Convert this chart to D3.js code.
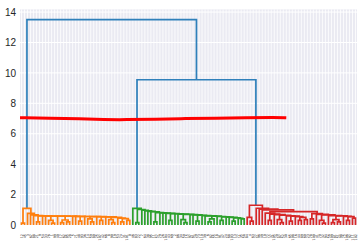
<!DOCTYPE html>
<html>
<head>
<meta charset="utf-8">
<script src="https://cdn.jsdelivr.net/npm/d3@7"></script>
<style>
  body { margin: 0; background: #fff; }
  svg { display: block; }
</style>
</head>
<body>
<div id="chart"></div>
<script>
// merge heights; leaf = 0, node = [height, left, right]
// chains: each step merges [height, piece] with everything to its right
const orangeSteps = [
  [1.09, [0.12, 0, 0]], [0.77, 0], [0.67, 0], [0.62, 0], [0.6, [0.2, 0, 0]],
  [0.6, 0], [0.59, 0], [0.59, [0.3, 0, [0.12, 0, 0]]], [0.58, 0],
  [0.58, [0.33, [0.15, 0, 0], [0.2, 0, 0]]], [0.57, 0], [0.57, 0],
  [0.56, [0.25, 0, 0]], [0.56, 0], [0.55, [0.4, 0, [0.2, 0, 0]]], [0.55, 0],
  [0.54, [0.3, 0, 0]], [0.53, 0], [0.5, [0.35, 0, [0.15, 0, 0]]], [0.45, 0],
  [0.42, [0.2, 0, 0]]
]
const orangeLast = [0.3, 0, 0]

const greenSteps = [
  [1.09, 0], [1.02, [0.15, 0, 0]], [0.97, 0], [0.93, 0], [0.9, 0], [0.87, 0],
  [0.82, [0.2, 0, 0]], [0.8, 0], [0.78, 0], [0.77, 0], [0.75, [0.3, 0, 0]],
  [0.74, 0], [0.72, 0], [0.7, [0.35, 0, [0.15, 0, 0]]], [0.68, 0], [0.66, 0],
  [0.64, [0.25, 0, 0]], [0.62, 0], [0.6, 0], [0.58, [0.4, [0.2, 0, 0], 0]],
  [0.56, 0], [0.54, [0.3, 0, 0]], [0.52, 0], [0.5, 0], [0.47, [0.25, 0, 0]],
  [0.44, 0]
]
const greenLast = [0.4, 0, 0]

const redSteps = [[1.3, [0.5, 0, [0.25, 0, 0]]], [1.1, 0], [1.04, 0], [1.0, 0]]
const redSplit = 0.88
const redASteps = [
  [0.78, 0], [0.72, [0.3, 0, 0]], [0.68, 0], [0.64, [0.35, 0, [0.15, 0, 0]]],
  [0.6, 0], [0.58, [0.25, 0, 0]], [0.55, 0], [0.5, [0.3, 0, 0]]
]
const redALast = [0.35, 0, 0]
const redBSteps = [
  [0.75, [0.4, 0, 0]], [0.7, 0], [0.66, [0.3, 0, [0.12, 0, 0]]], [0.62, 0],
  [0.6, [0.35, [0.15, 0, 0], [0.2, 0, 0]]], [0.57, 0], [0.55, [0.3, 0, 0]]
]
const redBLast = [0.45, 0, 0]

const topMerge = 13.5
const midMerge = 9.55

const leafLabels = [
  12, 45, 3, 67, 88, 21, 9, 54, 33, 76, 1, 99, 40, 17, 62, 85, 28, 5, 71, 48,
  93, 36, 14, 59, 80, 25, 107, 42, 66, 8, 90, 19, 53, 74, 31, 101, 0,
  46, 83, 22, 7, 64, 38, 95, 11, 57, 79, 26, 104, 43, 69, 2, 86, 34, 50, 15,
  97, 61, 29, 73, 110, 39, 6, 82, 55, 18, 91, 47, 24, 68, 103, 13, 77, 35, 58,
  84, 4, 63, 27, 96, 49, 10, 72, 37, 105, 20, 87, 52, 30, 65, 108, 16, 44, 89,
  60, 23, 78, 100, 41, 70, 32, 94, 56, 109, 81, 51, 98, 75, 106, 92, 111, 102
]

const yTicks = [0, 2, 4, 6, 8, 10, 12, 14]

// the wavy red cut line: [x in leaf units, height]
const cutX = [0, 100, 200, 280, 350, 450, 550, 650, 750, 850, 885]
const cutY = [7.05, 7.03, 6.98, 6.93, 6.92, 6.96, 7.0, 7.02, 7.05, 7.07, 7.05]

const colors = { above: "#2f80ba", orange: "#ff7f0e", green: "#2ca02c", red: "#d62728" }

// ---------------------------------------------------------------

const width = 362
const height = 245
const margin = { top: 9.4, left: 20, right: 5, bottom: 20 }

function chain(steps, last) {
  let node = last
  for (let i = steps.length - 1; i >= 0; i--) node = [steps[i][0], steps[i][1], node]
  return node
}

const orangeTree = chain(orangeSteps, orangeLast)
const greenTree = chain(greenSteps, greenLast)
const redTree = chain(redSteps, [redSplit, chain(redASteps, redALast), chain(redBSteps, redBLast)])
const root = [topMerge, orangeTree, [midMerge, greenTree, redTree]]

const nLeaves = leafLabels.length

const x = d3.scaleLinear().domain([0, 10 * nLeaves]).range([margin.left, width - margin.right])
const y = d3.scaleLinear().domain([0, topMerge * 1.05]).range([height - margin.bottom, margin.top])

let leafCount = 0
const leaves = []
function layout(n) {
  if (n === 0) {
    const p = { x: x(10 * leafCount + 5), y: y(0), label: leafLabels[leafCount] }
    leafCount++
    leaves.push(p)
    return p
  }
  const a = layout(n[1])
  const b = layout(n[2])
  return { x: (a.x + b.x) / 2, y: y(n[0]), a, b }
}
const tree = layout(root)

const links = []
function collect(n, color) {
  if (!n.a) return
  links.push({ n, color })
  collect(n.a, color)
  collect(n.b, color)
}
links.push({ n: tree, color: colors.above })
links.push({ n: tree.b, color: colors.above })
collect(tree.a, colors.orange)
collect(tree.b.a, colors.green)
collect(tree.b.b, colors.red)

const svg = d3.select("#chart").append("svg")
  .attr("width", width)
  .attr("height", height)

// dark grid background
svg.append("rect")
  .attr("x", margin.left)
  .attr("y", margin.top)
  .attr("width", width - margin.left - margin.right)
  .attr("height", height - margin.top - margin.bottom)
  .attr("fill", "#eaeaf2")

svg.selectAll(".hgrid")
  .data(yTicks)
  .enter().append("line")
  .attr("x1", margin.left)
  .attr("x2", width - margin.right)
  .attr("y1", d => y(d))
  .attr("y2", d => y(d))
  .attr("stroke", "#fff")
  .attr("stroke-width", 1)

svg.selectAll(".vgrid")
  .data(leaves)
  .enter().append("line")
  .attr("x1", d => d.x)
  .attr("x2", d => d.x)
  .attr("y1", margin.top)
  .attr("y2", height - margin.bottom)
  .attr("stroke", "#fff")
  .attr("stroke-width", 0.8)

// y axis labels only, no ticks
const yAxis = svg.append("g")
  .attr("transform", `translate(${margin.left},0)`)
  .call(d3.axisLeft(y).tickValues(yTicks).tickSize(0).tickPadding(4).tickFormat(d3.format("d")))
yAxis.select(".domain").remove()
yAxis.selectAll("text")
  .attr("font-family", "Liberation Sans, Arial, sans-serif")
  .attr("font-size", 10)
  .attr("fill", "#262626")

// leaf labels, rotated like scipy does
svg.selectAll(".leaf")
  .data(leaves)
  .enter().append("text")
  .attr("transform", d => `translate(${d.x},${height - margin.bottom + 9}) rotate(-90)`)
  .attr("text-anchor", "end")
  .attr("dy", "0.35em")
  .attr("font-family", "DejaVu Sans, sans-serif")
  .attr("font-size", 3.4)
  .attr("fill", "#262626")
  .text(d => d.label)

// dendrogram links
svg.selectAll(".link")
  .data(links)
  .enter().append("path")
  .attr("d", d => `M${d.n.a.x},${d.n.a.y}V${d.n.y}H${d.n.b.x}V${d.n.b.y}`)
  .attr("fill", "none")
  .attr("stroke", d => d.color)
  .attr("stroke-width", 1.7)

// cut line
const cutLine = d3.line()
  .x(d => x(d[0]))
  .y(d => y(d[1]))
  .curve(d3.curveBasis)

svg.append("path")
  .datum(cutX.map((v, i) => [v, cutY[i]]))
  .attr("d", cutLine)
  .attr("fill", "none")
  .attr("stroke", "#ff0000")
  .attr("stroke-width", 3)
</script>
</body>
</html>
